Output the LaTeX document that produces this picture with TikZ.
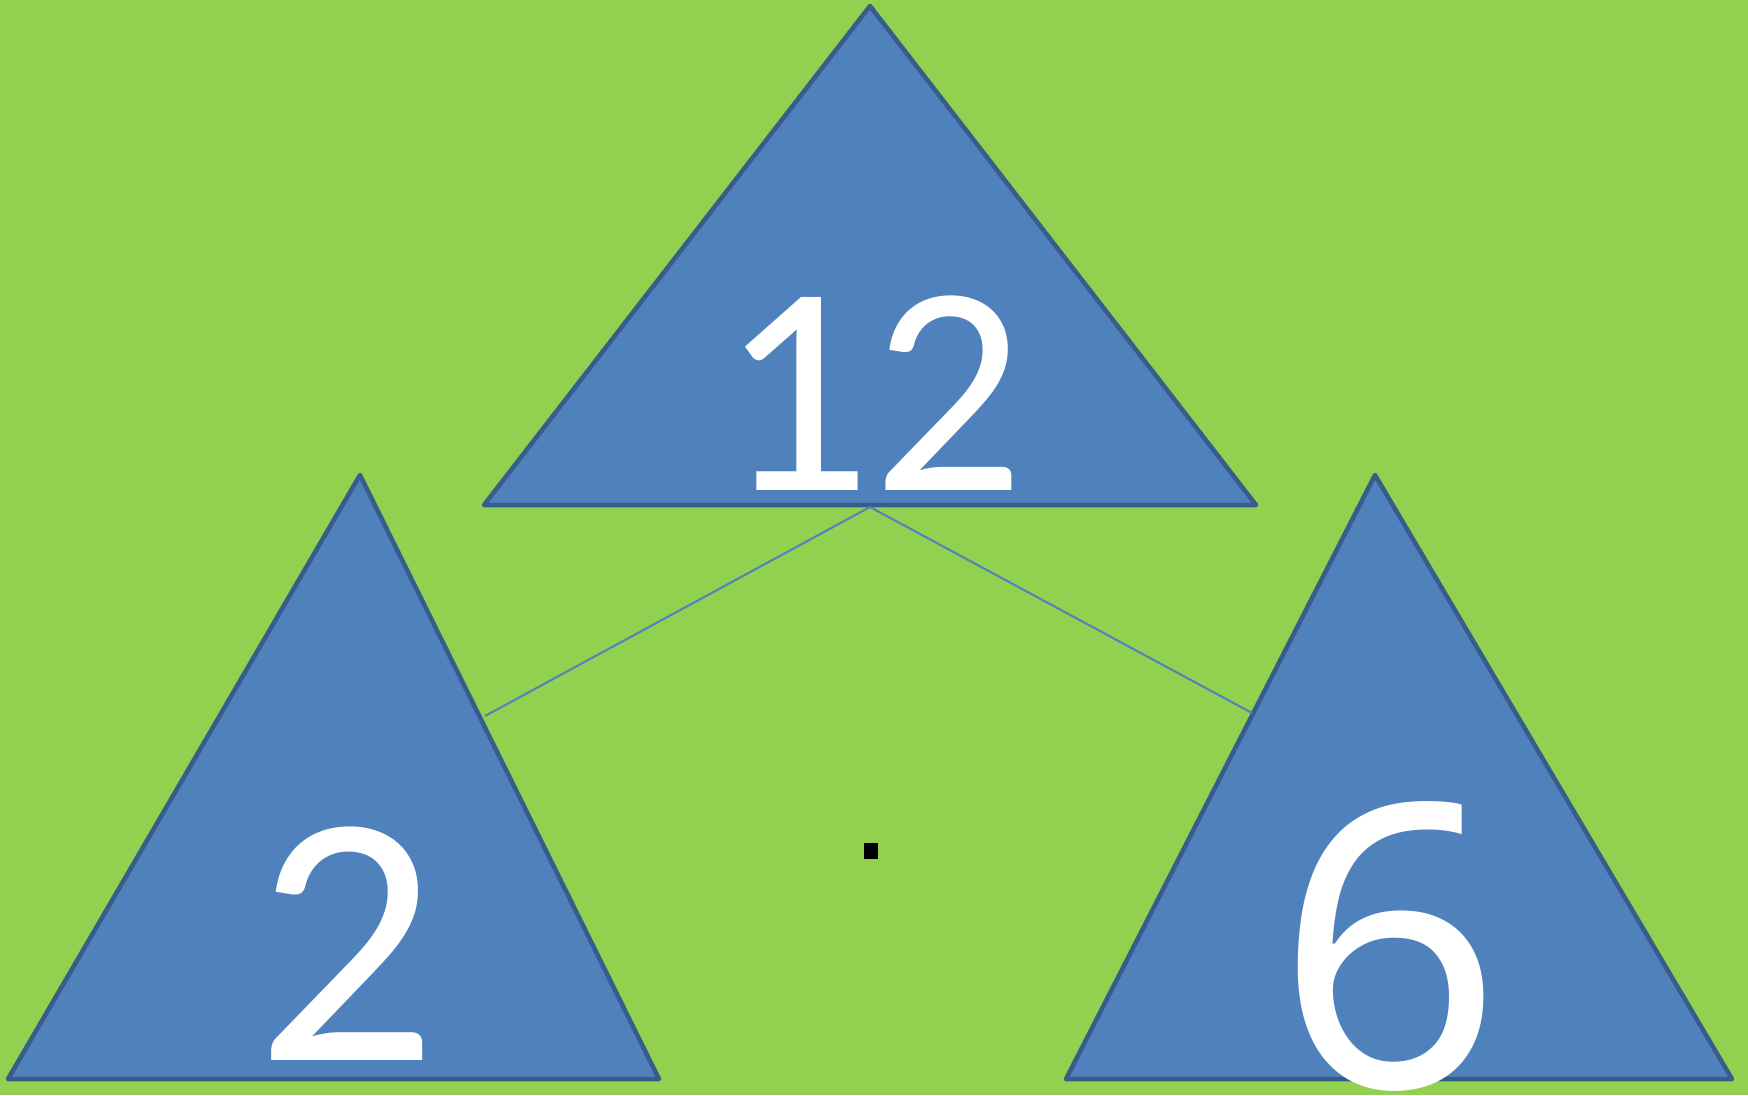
\documentclass[tikz,border=0pt]{standalone}
\usepackage{fontspec}
\setmainfont{Carlito}
\newfontfamily\sixfont{Noto Sans}
\definecolor{leaf}{HTML}{92D050}
\definecolor{tribody}{HTML}{4F81BD}
\definecolor{triedge}{HTML}{385D8A}
\tikzset{
  tri/.style={fill=tribody, draw=triedge, line width=4.5pt, line join=round},
  link/.style={draw=tribody, line width=2pt},
  num/.style={text=white, inner sep=0pt, anchor=base}
}
\begin{document}
\begin{tikzpicture}[x=1pt, y=-1pt]
  % === Pozadi ===
  \fill[leaf] (0,0) rectangle (1748,1095);
  \useasboundingbox (0,0) rectangle (1748,1095);
  % === Horni trojuhelnik ===
  \coordinate (topA) at (870,6);
  \coordinate (topL) at (484,505);
  \coordinate (topR) at (1256,505);
  \coordinate (topM) at (870,507);
  \draw[tri] (topA) -- (topL) -- (topR) -- cycle;
  \node[num, font=\fontsize{300}{300}\selectfont] (twelve) at (872,490) {12};
  % === Levy trojuhelnik ===
  \coordinate (leftA) at (360,475);
  \coordinate (leftL) at (8,1079);
  \coordinate (leftR) at (659,1079);
  \coordinate (leftS) at (485,716);
  \draw[tri] (leftA) -- (leftL) -- (leftR) -- cycle;
  \node[num, font=\fontsize{360}{360}\selectfont] (two) at (347,1060) {2};
  % === Pravy trojuhelnik ===
  \coordinate (rightA) at (1375,475);
  \coordinate (rightL) at (1066,1079);
  \coordinate (rightR) at (1732,1079);
  \coordinate (rightS) at (1252,713);
  \draw[tri] (rightA) -- (rightL) -- (rightR) -- cycle;
  \node[num, font=\sixfont\fontsize{395}{395}\selectfont] (six) at (1389,1087) {6};
  % === Spojnice ===
  \draw[link] (topM) -- (leftS);
  \draw[link] (topM) -- (rightS);
  % === Tecka ===
  \node[fill=black, minimum width=14pt, minimum height=16pt, inner sep=0pt] (dot) at (871,851) {};
\end{tikzpicture}
\end{document}
